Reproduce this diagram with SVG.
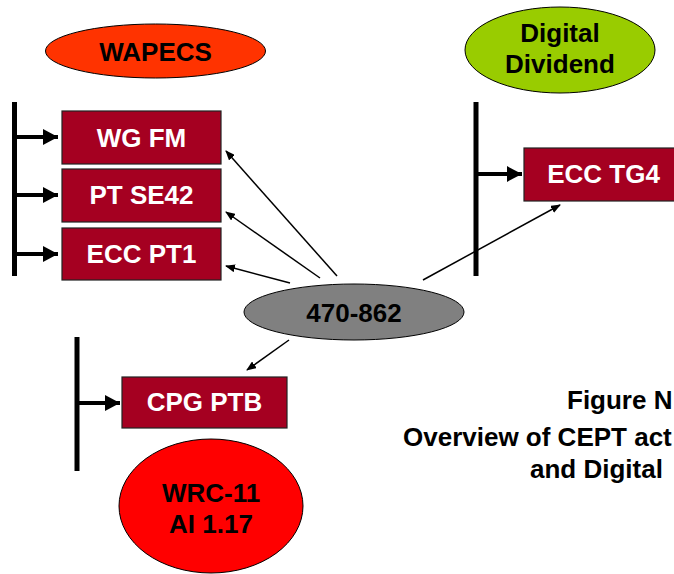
<svg xmlns="http://www.w3.org/2000/svg" width="674" height="574" viewBox="0 0 674 574">
<defs>
<marker id="thick" markerWidth="4" markerHeight="4.2" refX="3.8" refY="2.1" orient="auto" markerUnits="strokeWidth"><path d="M0,0.1 L3.8,2.1 L0,4.1 Z" fill="#000"/></marker>
<marker id="thin" markerWidth="10" markerHeight="8" refX="9" refY="4" orient="auto" markerUnits="userSpaceOnUse"><path d="M0,0 L10,4 L0,8 Z" fill="#000"/></marker>
</defs>
<style>
.box{fill:#A50021;stroke:#222;stroke-width:1.2}
.bt{font-family:"Liberation Sans",Arial,sans-serif;font-weight:bold;font-size:26px;fill:#fff;text-anchor:middle}
.kt{font-family:"Liberation Sans",Arial,sans-serif;font-weight:bold;font-size:26px;fill:#000;text-anchor:middle}
.ft{font-family:"Liberation Sans",Arial,sans-serif;font-weight:bold;font-size:26px;fill:#000}
.bar{stroke:#000;stroke-width:5;fill:none}
.ta{stroke:#000;stroke-width:4;fill:none;marker-end:url(#thick)}
.na{stroke:#000;stroke-width:1.5;fill:none;marker-end:url(#thin)}
.el{stroke:#000;stroke-width:1}
</style>
<g id="connectors">
<line class="bar" x1="14.5" y1="102" x2="14.5" y2="276"/>
<line class="ta" x1="17" y1="137" x2="58" y2="137"/>
<line class="ta" x1="17" y1="195" x2="58" y2="195"/>
<line class="ta" x1="17" y1="254" x2="58" y2="254"/>
<line class="bar" x1="476" y1="102" x2="476" y2="276"/>
<line class="ta" x1="478" y1="174" x2="522" y2="174"/>
<line class="bar" x1="77" y1="337" x2="77" y2="471"/>
<line class="ta" x1="79" y1="403" x2="120" y2="403"/>
<line class="na" x1="337" y1="276" x2="226" y2="151"/>
<line class="na" x1="320" y1="278" x2="226" y2="212"/>
<line class="na" x1="290" y1="283" x2="226" y2="266"/>
<line class="na" x1="423" y1="280" x2="560" y2="205"/>
<line class="na" x1="289" y1="340" x2="247" y2="370"/>
</g>
<g id="wapecs">
<ellipse class="el" cx="155.5" cy="51" rx="110" ry="27" fill="#FF3300"/>
<text class="kt" x="155.5" y="61">WAPECS</text>
</g>
<g id="digital-dividend">
<ellipse class="el" cx="560" cy="50" rx="95" ry="43" fill="#99CC00"/>
<text class="kt" x="560" y="42">Digital</text>
<text class="kt" x="560" y="73">Dividend</text>
</g>
<g id="wg-fm">
<rect class="box" x="62" y="111" width="159" height="53"/>
<text class="bt" x="141.5" y="147">WG FM</text>
</g>
<g id="pt-se42">
<rect class="box" x="62" y="169" width="159" height="53"/>
<text class="bt" x="141.5" y="204">PT SE42</text>
</g>
<g id="ecc-pt1">
<rect class="box" x="62" y="228" width="159" height="52"/>
<text class="bt" x="141.5" y="263">ECC PT1</text>
</g>
<g id="ecc-tg4">
<rect class="box" x="524" y="148" width="159" height="53"/>
<text class="bt" x="603.5" y="183">ECC TG4</text>
</g>
<g id="band-470-862">
<ellipse class="el" cx="354" cy="312" rx="110" ry="28" fill="#808080"/>
<text class="kt" x="354" y="322">470-862</text>
</g>
<g id="cpg-ptb">
<rect class="box" x="122" y="377" width="165" height="51"/>
<text class="bt" x="204.5" y="411">CPG PTB</text>
</g>
<g id="wrc-11">
<ellipse class="el" cx="211" cy="506" rx="92" ry="67" fill="#FF0000"/>
<text class="kt" x="211" y="502">WRC-11</text>
<text class="kt" x="211" y="533">AI 1.17</text>
</g>
<g id="caption">
<text class="ft" x="567" y="409">Figure N</text>
<text class="ft" x="403" y="446">Overview of CEPT act</text>
<text class="ft" x="530" y="478">and Digital</text>
</g>
</svg>
